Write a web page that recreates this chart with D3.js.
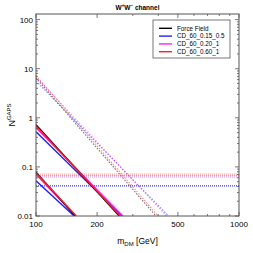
<!doctype html>
<html lang="en">
  <head>
    <meta charset="UTF-8" />
    <title>WW channel</title>
    <script src="https://cdn.jsdelivr.net/npm/d3@7"></script>
    <style>
      body { margin: 0; background: #fff; }
      text { font-family: "Liberation Sans", Arial, sans-serif; }
    </style>
  </head>
  <body>
    <div id="chart"></div>
    <script>
      // series names and colours
      const names = ["Force Field", "CD_60_0.15_0.5", "CD_60_0.20_1", "CD_60_0.60_1"];
      const colors = ["#000000", "#2020ff", "#ff20ff", "#ff2020"];

      // solid lines, upper group: [N at 100 GeV], mass where N hits 0.01
      const solidHighStart = [0.72, 0.52, 0.63, 0.68];
      const solidHighEnd = [257, 265, 268, 260];
      // solid lines, lower group
      const solidLowStart = [0.078, 0.052, 0.07, 0.075];
      const solidLowEnd = [156, 154, 157, 158];
      // dashed lines
      const dashedStart = [6.5, 5.6, 6.8, 7.2];
      const dashedEnd = [390, 450, 440, 400];
      // flat dotted lines
      const dottedLevel = [0.066, 0.041, 0.062, 0.071];

      const xMajor = [100, 200, 500, 1000];
      const xMinor = [300, 400, 600, 700, 800, 900];
      const yMajor = [0.01, 0.1, 1, 10, 100];
      const yMinor = [];
      [0.01, 0.1, 1, 10, 100].forEach(d => { for (let k = 2; k <= 9; k++) if (d * k < 130) yMinor.push(d * k); });

      const width = 253, height = 253;
      const mLeft = 36, mRight = 239, mTop = 14, mBottom = 216;

      const x = d3.scaleLog().domain([100, 1000]).range([mLeft, mRight]);
      const y = d3.scaleLog().domain([0.01, 130]).range([mBottom, mTop]);

      const svg = d3.select("#chart").append("svg")
        .attr("width", width)
        .attr("height", height);

      svg.append("clipPath").attr("id", "clip")
        .append("rect")
        .attr("x", mLeft).attr("y", mTop)
        .attr("width", mRight - mLeft).attr("height", mBottom - mTop);

      const plot = svg.append("g").attr("clip-path", "url(#clip)");
      const line = d3.line().x(d => x(d[0])).y(d => y(d[1]));

      // flat dotted lines
      dottedLevel.forEach((v, i) => {
        plot.append("path")
          .attr("d", line([[100, v], [1000, v]]))
          .attr("fill", "none")
          .attr("stroke", colors[i])
          .attr("stroke-width", 1.2)
          .attr("stroke-opacity", i == 1 ? 0.9 : 0.4)
          .attr("stroke-dasharray", "1,1");
      });

      // dashed lines
      dashedStart.forEach((v, i) => {
        plot.append("path")
          .attr("d", line([[100, v], [dashedEnd[i], 0.01]]))
          .attr("fill", "none")
          .attr("stroke", colors[i])
          .attr("stroke-width", 1.1)
          .attr("stroke-opacity", 0.55)
          .attr("stroke-dasharray", "1.5,1.5");
      });

      // solid lines, draw order blue, magenta, black, red
      [1, 2, 0, 3].forEach(i => {
        [[solidHighStart, solidHighEnd], [solidLowStart, solidLowEnd]].forEach(([s, e]) => {
          plot.append("path")
            .attr("d", line([[100, s[i]], [e[i], 0.01]]))
            .attr("fill", "none")
            .attr("stroke", colors[i])
            .attr("stroke-width", 1.4);
        });
      });

      // frame and ticks
      const frame = "#555";
      svg.append("rect")
        .attr("x", mLeft).attr("y", mTop)
        .attr("width", mRight - mLeft).attr("height", mBottom - mTop)
        .attr("fill", "none").attr("stroke", frame).attr("stroke-width", 1);

      const ticks = svg.append("g").attr("stroke", frame).attr("stroke-width", 0.8);
      [[xMajor, 4], [xMinor, 2]].forEach(([vals, len]) => {
        vals.forEach(v => {
          ticks.append("line").attr("x1", x(v)).attr("x2", x(v)).attr("y1", mBottom).attr("y2", mBottom - len);
          ticks.append("line").attr("x1", x(v)).attr("x2", x(v)).attr("y1", mTop).attr("y2", mTop + len);
        });
      });
      [[yMajor, 4], [yMinor, 2]].forEach(([vals, len]) => {
        vals.forEach(v => {
          ticks.append("line").attr("y1", y(v)).attr("y2", y(v)).attr("x1", mLeft).attr("x2", mLeft + len);
          ticks.append("line").attr("y1", y(v)).attr("y2", y(v)).attr("x1", mRight).attr("x2", mRight - len);
        });
      });

      // tick labels
      svg.append("g").selectAll("text").data(xMajor).join("text")
        .attr("x", d => x(d)).attr("y", 226.5)
        .attr("text-anchor", "middle")
        .attr("font-size", 8)
        .text(d => d);
      svg.append("g").selectAll("text").data(yMajor).join("text")
        .attr("x", 33).attr("y", d => y(d) + 3)
        .attr("text-anchor", "end")
        .attr("font-size", 8)
        .text(d => d);

      // title and axis titles
      const title = svg.append("text")
        .attr("x", (mLeft + mRight) / 2).attr("y", 9.5)
        .attr("text-anchor", "middle")
        .attr("font-size", 6.5)
        .attr("font-weight", "bold");
      title.append("tspan").text("W");
      title.append("tspan").attr("font-size", 4.5).attr("dy", -2.5).text("+");
      title.append("tspan").attr("dy", 2.5).text("W");
      title.append("tspan").attr("font-size", 4.5).attr("dy", -2.5).text("−");
      title.append("tspan").attr("dy", 2.5).text(" channel");

      const xt = svg.append("text")
        .attr("x", (mLeft + mRight) / 2).attr("y", 244)
        .attr("text-anchor", "middle")
        .attr("font-size", 8.5);
      xt.append("tspan").text("m");
      xt.append("tspan").attr("font-size", 6).attr("dy", 2).text("DM");
      xt.append("tspan").attr("dy", -2).text(" [GeV]");

      const yt = svg.append("text")
        .attr("transform", `translate(15,${(mTop + mBottom) / 2}) rotate(-90)`)
        .attr("text-anchor", "middle")
        .attr("font-size", 9);
      yt.append("tspan").text("N");
      yt.append("tspan").attr("font-size", 6).attr("dy", -4).text("GAPS");

      // legend
      const lg = svg.append("g");
      lg.append("rect")
        .attr("x", 153).attr("y", 20).attr("width", 77).attr("height", 38)
        .attr("fill", "#fff").attr("stroke", frame).attr("stroke-width", 0.8);
      names.forEach((n, i) => {
        const ly = 28.3 + i * 7.8;
        lg.append("line")
          .attr("x1", 159).attr("x2", 172).attr("y1", ly).attr("y2", ly)
          .attr("stroke", colors[i]).attr("stroke-width", 1.4);
        lg.append("text")
          .attr("x", 177).attr("y", ly + 2.3)
          .attr("font-size", 6.3)
          .text(n);
      });
    </script>
  </body>
</html>
